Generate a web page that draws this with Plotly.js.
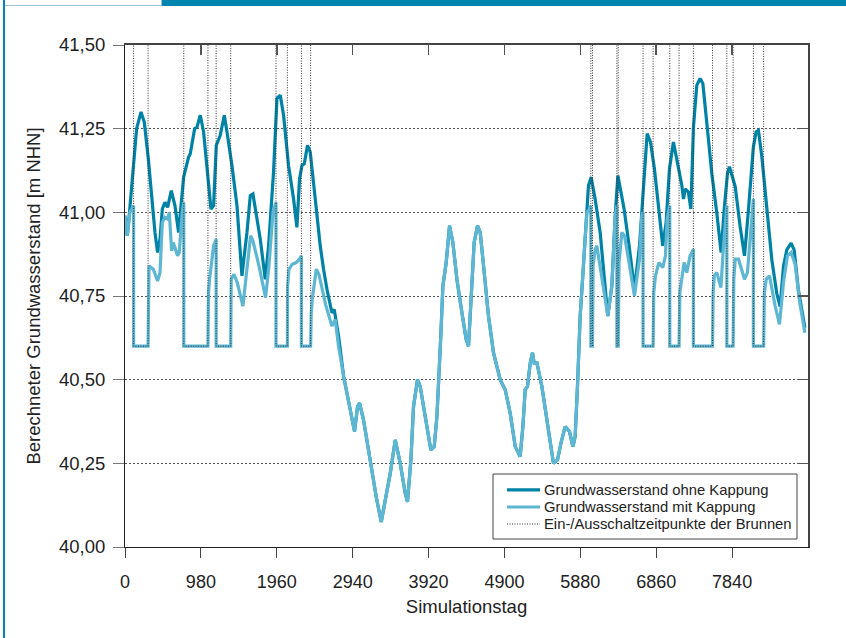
<!DOCTYPE html>
<html><head><meta charset="utf-8">
<script src="https://cdn.plot.ly/plotly-3.0.1.min.js"></script>
<style>
html,body{margin:0;padding:0;background:#fff;}
#wrap{position:relative;width:846px;height:638px;overflow:hidden;background:#fff;}
#chart{position:absolute;left:0;top:0;width:846px;height:638px;}
.deco{position:absolute;}
</style></head><body>
<div id="wrap">
<div id="chart"></div>
<div class="deco" style="left:162px;top:0;width:684px;height:6px;background:#0086ad;"></div>
<div class="deco" style="left:3px;top:0;width:2px;height:638px;background:#0086ad;"></div>
<div class="deco" style="left:5px;top:5px;width:157px;height:1px;background:#9fc3d2;"></div>
<div class="deco" style="left:161px;top:0;width:1px;height:5px;background:#9fc3d2;"></div>
</div>
<script>
// ---- data (x = Simulationstag, y = m NHN) ----
const capLevel = 40.60;
const wellOn  = [111, 759, 1177, 1950, 2278, 6016, 6352, 6690, 7035, 7340, 7772, 8115];
const wellOff = [298, 1071, 1365, 2097, 2397, 6037, 6369, 6820, 7155, 7587, 7853, 8247];

const darkLeftX = [0,30,58,107,150,207,249,301,343,387,421,452,482,516,550,598,645,692,757,821,843,899,930,972,1015,1059,1110,1144,1179,1230,1282,1317,1381,1446,1510,1575,1618,1652,1704,1747,1811,1854,1918,1962,2005,2048,2112,2177,2220,2254,2285,2315,2357,2392,2457,2521,2564,2608,2672,2702,2758,2823];
const darkLeftY = [40.99,40.93,41.00,41.13,41.25,41.30,41.27,41.16,41.05,40.94,40.88,40.92,41.01,41.03,41.015,41.065,41.02,40.94,41.105,41.165,41.175,41.25,41.255,41.29,41.24,41.135,41.01,41.02,41.20,41.23,41.29,41.24,41.14,41.02,40.81,40.94,41.05,41.055,40.98,40.92,40.80,40.90,41.12,41.34,41.35,41.29,41.14,41.04,40.955,41.10,41.14,41.145,41.20,41.18,41.04,40.90,40.83,40.77,40.70,40.71,40.63,40.51];

const lightLeftX = [0,30,64,111,111,298,310,365,421,452,482,516,550,572,602,624,679,700,740,759,759,1071,1078,1092,1144,1170,1177,1177,1365,1372,1407,1450,1523,1579,1622,1652,1730,1815,1859,1911,1950,1950,2097,2100,2117,2160,2210,2254,2278,2278,2397,2405,2418,2470,2504,2590,2672,2715,2758,2823];
const lightLeftY = [40.99,40.93,41.00,41.02,40.60,40.60,40.84,40.83,40.795,40.82,40.97,40.985,40.98,41.00,40.885,40.91,40.87,40.88,41.00,41.03,40.60,40.60,40.76,40.80,40.90,40.92,40.92,40.60,40.60,40.80,40.815,40.79,40.72,40.84,40.93,40.915,40.84,40.745,40.84,41.00,41.03,40.60,40.60,40.78,40.83,40.845,40.85,40.86,40.87,40.60,40.60,40.70,40.74,40.83,40.815,40.725,40.66,40.68,40.60,40.51];

const midX = [2866,2931,2964,3003,3029,3080,3167,3244,3309,3361,3425,3490,3554,3619,3648,3692,3726,3777,3812,3877,3950,3993,4028,4080,4105,4148,4191,4234,4286,4351,4406,4436,4480,4509,4552,4587,4639,4694,4759,4845,4910,4974,5039,5103,5138,5168,5198,5233,5262,5284,5319,5383,5448,5512,5533,5585,5629,5684,5740,5784,5813,5843,5878,5920,5964];
const midY = [40.46,40.38,40.345,40.42,40.43,40.38,40.25,40.15,40.075,40.14,40.22,40.32,40.25,40.16,40.135,40.26,40.42,40.50,40.48,40.39,40.29,40.30,40.39,40.64,40.78,40.85,40.96,40.91,40.80,40.70,40.62,40.60,40.79,40.91,40.96,40.94,40.82,40.69,40.58,40.50,40.47,40.40,40.30,40.27,40.36,40.47,40.48,40.55,40.58,40.55,40.55,40.48,40.38,40.28,40.25,40.26,40.31,40.36,40.345,40.30,40.33,40.48,40.69,40.84,41.00];

const darkRightX = [5985,6020,6071,6136,6187,6235,6287,6330,6365,6408,6445,6510,6579,6644,6708,6743,6786,6837,6902,6944,6988,7031,7082,7126,7191,7212,7234,7276,7307,7341,7384,7427,7462,7514,7578,7643,7698,7741,7780,7806,7880,7944,8000,8051,8115,8150,8180,8224,8288,8353,8417,8460,8503,8546,8602,8641,8696,8780];
const darkRightY = [41.08,41.105,41.04,40.94,40.81,40.69,40.78,40.99,41.11,41.06,41.01,40.90,40.77,40.90,41.11,41.235,41.21,41.13,40.99,40.90,40.97,41.13,41.21,41.155,41.08,41.04,41.07,41.06,41.01,41.255,41.38,41.40,41.385,41.265,41.116,40.997,40.88,41.017,41.116,41.136,41.077,40.957,40.87,41.007,41.196,41.24,41.245,41.166,41.007,40.858,40.758,40.718,40.838,40.888,40.908,40.888,40.768,40.655];

const lightRightX = [6000,6016,6016,6037,6045,6071,6093,6157,6235,6287,6330,6352,6352,6369,6380,6416,6450,6502,6579,6644,6674,6690,6690,6820,6828,6850,6893,6944,6979,7001,7035,7035,7155,7165,7191,7220,7255,7297,7320,7340,7340,7587,7595,7610,7643,7695,7729,7760,7772,7772,7853,7862,7880,7923,8000,8038,8073,8099,8115,8115,8247,8257,8280,8323,8396,8452,8503,8555,8602,8654,8710,8780];
const lightRightY = [41.01,41.02,40.60,40.60,40.84,40.89,40.90,40.81,40.69,40.78,40.99,41.02,40.60,40.60,40.85,40.94,40.93,40.86,40.75,40.86,40.99,41.00,40.60,40.60,40.76,40.81,40.85,40.835,40.87,40.98,41.02,40.60,40.60,40.76,40.81,40.85,40.82,40.87,40.88,40.89,40.60,40.60,40.76,40.81,40.82,40.775,40.90,40.98,41.02,40.60,40.60,40.80,40.86,40.86,40.80,40.82,40.91,41.00,41.04,40.60,40.60,40.76,40.80,40.81,40.72,40.665,40.79,40.87,40.88,40.845,40.735,40.64];

const xTickVals = [0,980,1960,2940,3920,4900,5880,6860,7840];
const xTickText = ['0','980','1960','2940','3920','4900','5880','6860','7840'];
const yTickVals = [40.00,40.25,40.50,40.75,41.00,41.25,41.50];
const yTickText = ['40,00','40,25','40,50','40,75','41,00','41,25','41,50'];

const seriesNames = ['Grundwasserstand ohne Kappung','Grundwasserstand mit Kappung','Ein-/Ausschaltzeitpunkte der Brunnen'];

// ---- build traces ----
const darkX = darkLeftX.concat(midX, darkRightX);
const darkY = darkLeftY.concat(midY, darkRightY);
const lightX = lightLeftX.concat(midX, lightRightX);
const lightY = lightLeftY.concat(midY, lightRightY);

const offLevel = 41.7; // switch signal "off" lies above the visible range (clipped)
const swX = [], swY = [];
for (let i = 0; i < wellOn.length; i++) {
  swX.push(wellOn[i], wellOn[i], wellOff[i], wellOff[i], null);
  swY.push(offLevel, capLevel, capLevel, offLevel, null);
}

const DARK = '#0082a7', LIGHT = '#5db6d2';
const FONT = 'Liberation Sans, Arial, Helvetica, sans-serif';
const styles = [
  {color: DARK, width: 3.2},
  {color: LIGHT, width: 3.2},
  {color: '#333', width: 1, dash: '1px,1.5px'}
];

const traces = [
  {x: darkX, y: darkY, mode: 'lines', name: seriesNames[0], line: styles[0], hoverinfo: 'skip'},
  {x: lightX, y: lightY, mode: 'lines', name: seriesNames[1], line: styles[1], hoverinfo: 'skip'},
  {x: swX, y: swY, mode: 'lines', name: seriesNames[2], line: styles[2], hoverinfo: 'skip', connectgaps: false},
  {x: [null], y: [null], xaxis: 'x2', yaxis: 'y2', showlegend: false, hoverinfo: 'skip', mode: 'lines'}
];

// ---- legend box (drawn in paper coordinates) ----
const legBox = {x0: 0.5388, x1: 0.9839, y0: 0.0159, y1: 0.1454};
const legRowsY = [0.1136, 0.0797, 0.0458];
const legLineX = [0.5593, 0.6076];
const legTextX = 0.6120;
const shapes = [{type: 'rect', xref: 'paper', yref: 'paper', x0: legBox.x0, x1: legBox.x1, y0: legBox.y0, y1: legBox.y1,
  line: {color: '#444', width: 1}, fillcolor: '#fff', layer: 'above'}];
const annotations = [];
seriesNames.forEach((n, i) => {
  shapes.push({type: 'line', xref: 'paper', yref: 'paper', x0: legLineX[0], x1: legLineX[1], y0: legRowsY[i], y1: legRowsY[i],
    line: styles[i], layer: 'above'});
  annotations.push({xref: 'paper', yref: 'paper', x: legTextX, y: legRowsY[i], xanchor: 'left', yanchor: 'middle',
    text: n, showarrow: false, font: {family: FONT, size: 14.8, color: '#222'}, borderpad: 0});
});

const layout = {
  width: 846, height: 638,
  margin: {l: 125, r: 38, t: 45, b: 91},
  paper_bgcolor: 'rgba(0,0,0,0)', plot_bgcolor: '#fff',
  font: {family: FONT, size: 18, color: '#222'},
  showlegend: false,
  shapes: shapes,
  annotations: annotations,
  xaxis: {
    range: [0, 8820], tickvals: xTickVals, ticktext: xTickText,
    ticks: 'outside', ticklen: 10, tickwidth: 1, tickcolor: '#444',
    ticklabelstandoff: 8,
    showline: true, linecolor: '#222', linewidth: 1,
    showgrid: false, zeroline: false,
    tickfont: {size: 18, color: '#222'},
    title: {text: 'Simulationstag', font: {size: 18.5, color: '#222'}, standoff: 9}
  },
  yaxis: {
    range: [40, 41.5], tickvals: yTickVals, ticktext: yTickText,
    ticks: 'outside', ticklen: 11, tickwidth: 1, tickcolor: '#777',
    ticklabelstandoff: 4,
    showline: true, linecolor: '#222', linewidth: 1,
    showgrid: true, gridcolor: '#555', gridwidth: 1, griddash: '2px,2px',
    zeroline: false,
    tickfont: {size: 18.5, color: '#222'},
    title: {text: 'Berechneter Grundwasserstand [m NHN]', font: {size: 18.5, color: '#222'}, standoff: 13}
  },
  xaxis2: {
    overlaying: 'x', side: 'top', range: [0, 8820], tickvals: xTickVals,
    ticks: 'inside', ticklen: 10, tickwidth: 1.5, tickcolor: '#555',
    showticklabels: false, showline: true, linecolor: '#444', linewidth: 2,
    showgrid: false, zeroline: false
  },
  yaxis2: {
    overlaying: 'y', side: 'right', range: [40, 41.5], tickvals: yTickVals,
    ticks: 'inside', ticklen: 10, tickwidth: 1.5, tickcolor: '#555',
    showticklabels: false, showline: true, linecolor: '#444', linewidth: 2,
    showgrid: false, zeroline: false
  }
};

Plotly.newPlot('chart', traces, layout, {staticPlot: true, displayModeBar: false});
</script>
</body></html>
